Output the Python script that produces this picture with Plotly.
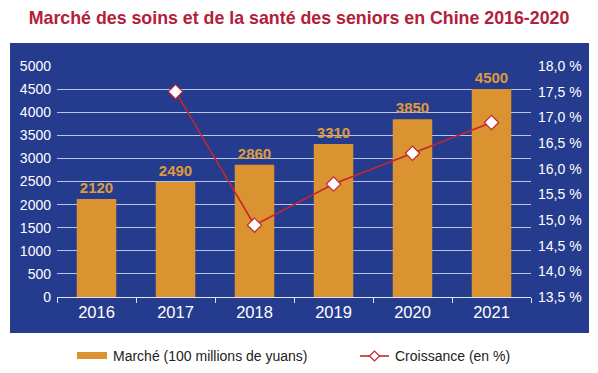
import plotly.graph_objects as go

years = ["2016", "2017", "2018", "2019", "2020", "2021"]
market = [2120, 2490, 2860, 3310, 3850, 4500]
growth = [None, 17.5, 14.9, 15.7, 16.3, 16.9]

title_text = "Marché des soins et de la santé des seniors en Chine 2016-2020"
bar_name = "Marché (100 millions de yuans)"
line_name = "Croissance (en %)"

BLUE = "#253b8e"
GOLD = "#db9230"
LABEL_GOLD = "#dd9b3d"
RED = "#c4262e"
FONT = "Liberation Sans, Arial, sans-serif"

fig = go.Figure()
fig.add_trace(go.Bar(
    x=years, y=market, name=bar_name,
    marker=dict(color=GOLD, line=dict(width=0)),
    text=[str(v) for v in market], textposition="outside",
    textfont=dict(color=LABEL_GOLD, size=15, family=FONT, weight="bold"),
    cliponaxis=False, showlegend=False,
))
fig.add_trace(go.Scatter(
    x=years, y=growth, name=line_name, yaxis="y2", mode="lines+markers",
    line=dict(color=RED, width=1.6),
    marker=dict(symbol="diamond", size=11, color="white", line=dict(color=RED, width=1.2)),
    connectgaps=False, cliponaxis=False, showlegend=False,
))

# blue panel background
fig.add_shape(type="rect", xref="paper", yref="paper", layer="below",
              x0=-47/474, x1=(589-57)/474, y0=-(333-297)/231,
              y1=(297-43)/231, fillcolor=BLUE, line=dict(width=0))

# custom legend
leg_y = -(356-297)/231
fig.add_shape(type="rect", xref="paper", yref="paper",
              x0=(77-57)/474, x1=(107-57)/474, y0=-(359-297)/231, y1=-(352-297)/231,
              fillcolor=GOLD, line=dict(width=0))
fig.add_annotation(xref="paper", yref="paper", x=(111-57)/474, y=leg_y, xanchor="left", yanchor="middle",
                   text=bar_name, showarrow=False, font=dict(size=14, color="#222222", family=FONT))
fig.add_shape(type="line", xref="paper", yref="paper",
              x0=(360-57)/474, x1=(389-57)/474, y0=leg_y, y1=leg_y, line=dict(color=RED, width=1.6))
fig.add_shape(type="path", xref="paper", yref="paper", xsizemode="pixel", ysizemode="pixel",
              xanchor=(374.5-57)/474, yanchor=leg_y,
              path="M -5,0 L 0,5 L 5,0 L 0,-5 Z", fillcolor="white", line=dict(color=RED, width=1.2))
fig.add_annotation(xref="paper", yref="paper", x=(393-57)/474, y=leg_y, xanchor="left", yanchor="middle",
                   text=line_name, showarrow=False, font=dict(size=14, color="#222222", family=FONT))

fig.update_layout(
    width=598, height=373,
    margin=dict(l=57, r=67, t=66, b=76),
    paper_bgcolor="white", plot_bgcolor=BLUE,
    separators=", ",
    bargap=0.5,
    font=dict(family=FONT, color="white"),
    title=dict(text=title_text, x=0.5, xanchor="center", y=1 - 18/373, yanchor="middle",
               font=dict(size=17.8, color="#b3203a", family=FONT, weight="bold")),
    xaxis=dict(type="category", showgrid=False, showline=True, linecolor="#dfe4f5", linewidth=1.2,
               ticks="outside", tickson="boundaries", ticklen=5, tickcolor="#dfe4f5",
               tickfont=dict(size=16.5, color="white"), zeroline=False),
    yaxis=dict(range=[0, 5000], dtick=500, showgrid=True, gridcolor="#b9c3ec", gridwidth=1.4,
               zeroline=False, showline=False, ticks="", ticklabelstandoff=5,
               tickfont=dict(size=14, color="white")),
    yaxis2=dict(range=[13.5, 18], dtick=0.5, overlaying="y", side="right", tickformat=".1f",
                ticksuffix=" %", showgrid=False, zeroline=False, showline=False, ticks="",
                ticklabelstandoff=6, tickfont=dict(size=14, color="white")),
)

fig.write_html("out.html", config={"displayModeBar": False})

# remove default page margin so the figure sits at the window origin
with open("out.html", "r", encoding="utf-8") as f:
    html = f.read()
html = html.replace("<head>", "<head><style>html,body{margin:0;padding:0;overflow:hidden;}</style>", 1)
with open("out.html", "w", encoding="utf-8") as f:
    f.write(html)
